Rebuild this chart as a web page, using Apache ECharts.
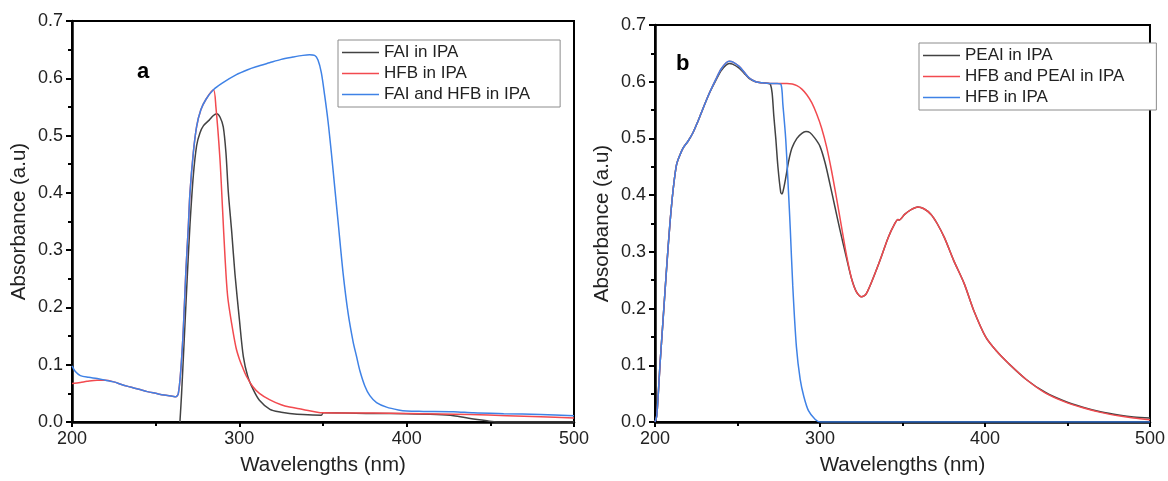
<!DOCTYPE html>
<html>
<head>
<meta charset="utf-8">
<script src="https://cdn.jsdelivr.net/npm/echarts@6/dist/echarts.min.js"></script>
<style>
html,body{margin:0;padding:0;background:#fff;}
#c{width:1168px;height:481px;}
</style>
</head>
<body>
<div id="c"></div>
<script>
// ---------- Panel a ----------
const namesA = ['FAI in IPA', 'HFB in IPA', 'FAI and HFB in IPA'];
const wlA_FAI  = [264.5,265.5,267.5,269,270.5,272.5,274.5,276.5,278.5,282,284.5,286.5,288.5,290.4,292,293.4,295.5,297.4,300,302.4,305,308.4,312,318.3,325,330,338,349,350.2,380,400,418,428,438,448,454,500];
const absA_FAI = [0,0.05,0.17,0.26,0.344,0.43,0.483,0.505,0.517,0.527,0.535,0.538,0.532,0.515,0.47,0.402,0.33,0.258,0.18,0.114,0.08,0.056,0.038,0.022,0.017,0.015,0.013,0.012,0.016,0.015,0.0145,0.013,0.011,0.006,0.002,0,0];
const wlA_HFB  = [200,205,209,215,220,225,230,235,240,245,250,255,260,262,263.5,265,266.5,268,269.5,270.5,272.5,274.5,277,280,284.5,286,288.4,290,291.4,293,295.4,298,300,302,304.4,308,312,318,325,330,338,345,350,380,400,420,438,460,480,500];
const absA_HFB = [0.067,0.069,0.071,0.073,0.073,0.070,0.065,0.061,0.057,0.053,0.050,0.047,0.045,0.044,0.049,0.09,0.16,0.26,0.34,0.40,0.47,0.516,0.545,0.563,0.580,0.55,0.46,0.37,0.29,0.22,0.172,0.13,0.11,0.095,0.079,0.062,0.05,0.039,0.030,0.026,0.022,0.018,0.016,0.0155,0.015,0.014,0.013,0.011,0.009,0.007];
const wlA_MIX  = [200,202,205,210,215,220,225,230,235,240,245,250,255,260,262,263.5,265,266.5,268,269.5,270.5,272.5,274.5,277,280,284.5,290,298,305,310,318,325,332,338,342,345,347,349,351,353,355,357,359,362,365,368,370,372,375,378,382,388,395,400,410,428,440,458,480,500];
const absA_MIX = [0.098,0.088,0.081,0.078,0.076,0.073,0.070,0.065,0.061,0.057,0.053,0.050,0.047,0.045,0.044,0.049,0.09,0.16,0.26,0.34,0.40,0.47,0.516,0.545,0.563,0.580,0.592,0.606,0.615,0.620,0.627,0.633,0.637,0.640,0.641,0.640,0.632,0.61,0.57,0.525,0.47,0.41,0.35,0.26,0.19,0.14,0.115,0.09,0.063,0.046,0.034,0.026,0.021,0.019,0.0185,0.018,0.016,0.0145,0.013,0.011];

// ---------- Panel b ----------
const namesB = ['PEAI in IPA', 'HFB and PEAI in IPA', 'HFB in IPA'];
const wlB_PEAI  = [200,201,202,203,205,207,209,211,213,215,217,220,223,226,229,233,237,240,243,245,247,251,254,257,261,265,269,270,271,272,273.2,274.5,276.2,277,278,279.2,281,283,286,289,291.5,294,297,300,303,306,309,312,316,319.2,322,325.2,328,333.2,337,341.3,345,347.3,348,351.3,355,359.3,363,367.3,371,375.4,381,387.4,393,400.4,407,414,425,436.7,448,459.3,470,481.8,490,500];
const absB_PEAI = [0,0.01,0.05,0.10,0.185,0.27,0.348,0.41,0.453,0.47,0.483,0.495,0.51,0.53,0.552,0.58,0.603,0.619,0.629,0.632,0.631,0.624,0.615,0.606,0.600,0.598,0.597,0.595,0.58,0.54,0.50,0.45,0.405,0.402,0.412,0.43,0.46,0.483,0.50,0.509,0.512,0.51,0.50,0.486,0.458,0.42,0.38,0.34,0.29,0.252,0.230,0.221,0.226,0.261,0.29,0.325,0.348,0.357,0.356,0.366,0.374,0.379,0.376,0.366,0.35,0.325,0.285,0.244,0.198,0.150,0.125,0.104,0.075,0.052,0.037,0.026,0.018,0.012,0.009,0.007];
const wlB_MIX  = [200,201,202,203,205,207,209,211,213,215,217,220,223,226,229,233,237,240,243,245,247,251,254,257,261,265,270,276,280,283.2,286,289,292,295,298,301,304,307,310,313,316,319.2,322,325.2,328,333.2,337,341.3,345,347.3,348,351.3,355,359.3,363,367.3,371,375.4,381,387.4,393,400.4,407,414,425,436.7,448,459.3,470,481.8,490,500];
const absB_MIX = [0,0.01,0.05,0.10,0.185,0.27,0.348,0.41,0.453,0.47,0.483,0.495,0.51,0.53,0.552,0.58,0.605,0.622,0.633,0.636,0.635,0.627,0.617,0.607,0.600,0.598,0.597,0.597,0.597,0.596,0.593,0.587,0.577,0.563,0.543,0.518,0.485,0.443,0.395,0.345,0.295,0.252,0.230,0.221,0.226,0.261,0.29,0.325,0.348,0.357,0.356,0.366,0.374,0.379,0.376,0.366,0.35,0.325,0.285,0.244,0.198,0.150,0.125,0.104,0.075,0.051,0.036,0.025,0.017,0.0105,0.007,0.004];
const wlB_HFB  = [200,201,202,203,205,207,209,211,213,215,217,220,223,226,229,233,237,240,243,245,247,251,254,257,261,265,270,274,276.4,277.5,279.2,281,282,283.5,285.7,288,290.2,293,297,300,500];
const absB_HFB = [0,0.01,0.05,0.10,0.185,0.27,0.348,0.41,0.453,0.47,0.483,0.495,0.51,0.53,0.552,0.58,0.605,0.622,0.633,0.636,0.635,0.627,0.617,0.607,0.600,0.598,0.597,0.597,0.595,0.56,0.50,0.40,0.34,0.24,0.133,0.075,0.045,0.02,0.005,0,0];

const xTicks = [200, 300, 400, 500];
const yTicks = [0.0, 0.1, 0.2, 0.3, 0.4, 0.5, 0.6, 0.7];

const COL_BLACK = '#424242', COL_RED = '#f24a4f', COL_BLUE = '#3f82e6';
const FONT = 'Liberation Sans, Arial, sans-serif';

function pairs(xs, ys) { return xs.map((x, i) => [x, ys[i]]); }

function xAxisCfg(idx) {
  return {
    type: 'value', gridIndex: idx, min: xTicks[0], max: xTicks[xTicks.length - 1], interval: 100,
    name: 'Wavelengths (nm)', nameLocation: 'middle', nameGap: 33,
    nameTextStyle: { fontSize: 20.5, color: '#222', fontFamily: FONT },
    axisLine: { onZero: false, lineStyle: { color: '#000', width: 2.5 } },
    axisTick: { show: true, inside: false, length: 5, lineStyle: { color: '#000', width: 2 } },
    minorTick: { show: true, splitNumber: 2, length: 4, lineStyle: { color: '#000', width: 2 } },
    axisLabel: { fontSize: 18, color: '#222', fontFamily: FONT, margin: 8 },
    splitLine: { show: false }
  };
}
function yAxisCfg(idx) {
  return {
    type: 'value', gridIndex: idx, min: yTicks[0], max: yTicks[yTicks.length - 1], interval: 0.1,
    name: 'Absorbance (a.u)', nameLocation: 'middle', nameGap: 42,
    nameTextStyle: { fontSize: 20.5, color: '#222', fontFamily: FONT },
    axisLine: { onZero: false, lineStyle: { color: '#000', width: 2.5 } },
    axisTick: { show: true, inside: false, length: 6, lineStyle: { color: '#000', width: 2 } },
    minorTick: { show: true, splitNumber: 2, length: 4, lineStyle: { color: '#000', width: 2 } },
    axisLabel: { fontSize: 18, color: '#222', fontFamily: FONT, margin: 9, formatter: v => v.toFixed(1) },
    splitLine: { show: false }
  };
}
function lineSeries(name, idx, xs, ys, color) {
  return {
    type: 'line', name: name, xAxisIndex: idx, yAxisIndex: idx,
    data: pairs(xs, ys), symbol: 'none', smooth: 0.3,
    lineStyle: { color: color, width: 1.5 }, itemStyle: { color: color }, z: 3
  };
}
function legendItem(name, color) {
  return { name: name, icon: 'rect', itemStyle: { color: color, borderWidth: 0 } };
}

const chart = echarts.init(document.getElementById('c'), null, { renderer: 'canvas' });
chart.setOption({
  backgroundColor: '#fff',
  animation: false,
  title: [
    { text: 'a', left: 132, top: 56, textStyle: { fontSize: 22, fontWeight: 'bold', color: '#000', fontFamily: FONT } },
    { text: 'b', left: 671, top: 48, textStyle: { fontSize: 22, fontWeight: 'bold', color: '#000', fontFamily: FONT } }
  ],
  grid: [
    { left: 72, right: 594, top: 21, bottom: 56, show: true, borderColor: '#000', borderWidth: 2, backgroundColor: 'transparent' },
    { left: 655, right: 14, top: 25, bottom: 55, show: true, borderColor: '#000', borderWidth: 2, backgroundColor: 'transparent' }
  ],
  legend: [
    {
      data: [legendItem(namesA[0], COL_BLACK), legendItem(namesA[1], COL_RED), legendItem(namesA[2], COL_BLUE)],
      orient: 'vertical', left: 338, top: 40,
      itemWidth: 37, itemHeight: 1.6, itemGap: 4,
      padding: [4, 30, 4, 4], borderColor: '#8c8c8c', borderWidth: 1, backgroundColor: '#fff',
      textStyle: { fontSize: 17, color: '#222', fontFamily: FONT, lineHeight: 17 }
    },
    {
      data: [legendItem(namesB[0], COL_BLACK), legendItem(namesB[1], COL_RED), legendItem(namesB[2], COL_BLUE)],
      orient: 'vertical', left: 919, top: 43,
      itemWidth: 37, itemHeight: 1.6, itemGap: 4,
      padding: [4, 32, 4, 4], borderColor: '#8c8c8c', borderWidth: 1, backgroundColor: '#fff',
      textStyle: { fontSize: 17, color: '#222', fontFamily: FONT, lineHeight: 17 }
    }
  ],
  xAxis: [xAxisCfg(0), xAxisCfg(1)],
  yAxis: [yAxisCfg(0), yAxisCfg(1)],
  series: [
    lineSeries(namesA[0], 0, wlA_FAI, absA_FAI, COL_BLACK),
    lineSeries(namesA[1], 0, wlA_HFB, absA_HFB, COL_RED),
    lineSeries(namesA[2], 0, wlA_MIX, absA_MIX, COL_BLUE),
    lineSeries(namesB[0], 1, wlB_PEAI, absB_PEAI, COL_BLACK),
    lineSeries(namesB[1], 1, wlB_MIX, absB_MIX, COL_RED),
    lineSeries(namesB[2], 1, wlB_HFB, absB_HFB, COL_BLUE)
  ]
});
</script>
</body>
</html>
